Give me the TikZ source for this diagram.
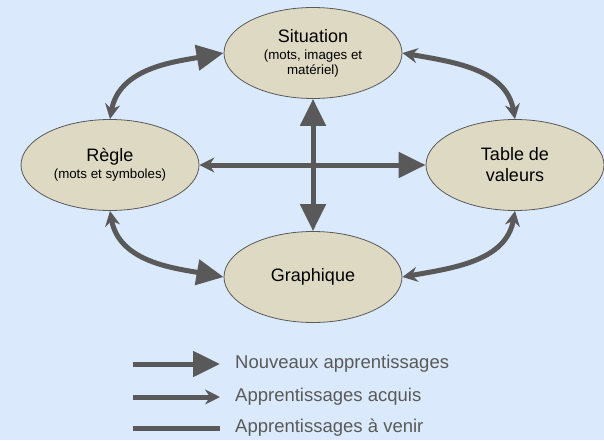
\documentclass[tikz,border=0pt]{standalone}
\usepackage{fontspec}
\setmainfont{Liberation Sans}
\usetikzlibrary{arrows.meta,positioning,shapes.geometric}

\definecolor{fond}{RGB}{218,234,252}
\definecolor{beige}{RGB}{221,217,195}
\definecolor{gris}{RGB}{89,89,89}
\newcommand{\petit}{\fontsize{13.3}{15}\selectfont}

\tikzset{
  Gros/.tip={Triangle[length=27pt,width=25pt]},
  Mince/.tip={Stealth[length=15pt,width=15pt,inset=5pt]},
}

\begin{document}
\begin{tikzpicture}[x=1pt,y=1pt,
    etape/.style={ellipse,draw=gris,line width=0.8pt,fill=beige,
      minimum width=178pt,minimum height=91pt,inner sep=0pt,
      align=center,font=\fontsize{18}{15}\selectfont},
    lien/.style={draw=gris,line width=5pt},
    legende/.style={anchor=west,inner sep=0pt,text=gris,
      font=\fontsize{18.5}{20}\selectfont}]
  \useasboundingbox[fill=fond] (0,0) rectangle (604,440);

  % les quatre representations
  \node[etape] (sit) at (313,387) {Situation\\[2pt]\petit (mots, images et\\\petit mat\'eriel)};
  \node[etape] (regle) at (110,275) {R\`egle\\[2pt]\petit (mots et symboles)};
  \node[etape] (table) at (515,275) {Table de\\[6pt]valeurs};
  \node[etape] (graph) at (313,163) {Graphique};

  % liens
  \draw[lien,Mince-Gros] (regle) -- (table);
  \draw[lien,Gros-Gros] (sit) -- (graph);
  \draw[lien,Mince-Gros] (regle.north) to[out=80,in=190] (sit.west);
  \draw[lien,Mince-Mince] (sit.east) to[out=-10,in=100] (table.north);
  \draw[lien,Mince-Gros] (regle.south) to[out=-80,in=170] (graph.west);
  \draw[lien,Mince-Mince] (graph.east) to[out=10,in=-100] (table.south);

  % legende
  \coordinate (n0) at (133,76);
  \coordinate[right=87pt of n0] (n1);
  \node[legende,right=15pt of n1] (nouv) {Nouveaux apprentissages};
  \draw[lien,-Gros] (n0) -- (n1);

  \coordinate (a0) at (133,43);
  \coordinate[right=87pt of a0] (a1);
  \node[legende,right=15pt of a1] (acq) {Apprentissages acquis};
  \draw[lien,-Mince] (a0) -- (a1);

  \coordinate (v0) at (133,12);
  \coordinate[right=87pt of v0] (v1);
  \node[legende,right=15pt of v1] (venir) {Apprentissages \`a venir};
  \draw[lien] (v0) -- (v1);
\end{tikzpicture}
\end{document}
